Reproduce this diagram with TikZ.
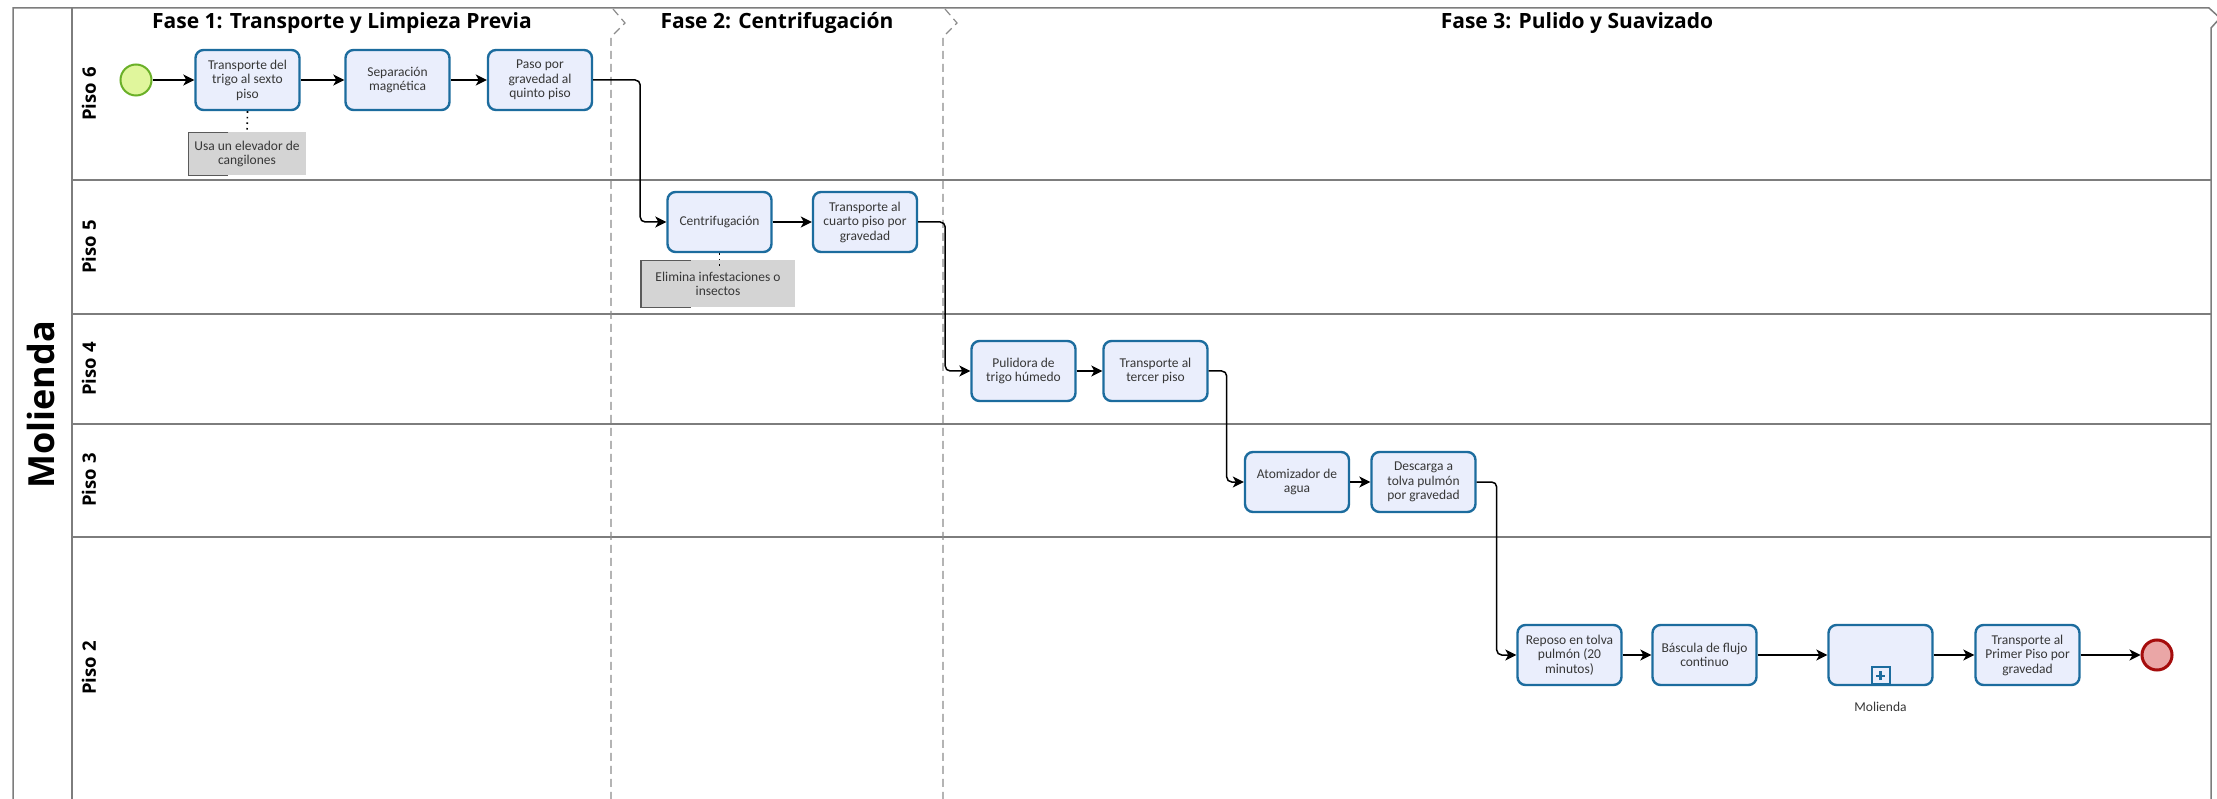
\documentclass[tikz,border=0pt]{standalone}
\usepackage{fontspec}
\setmainfont{Carlito}
\newfontfamily\headfont{Open Sans}
\usetikzlibrary{arrows.meta}

\definecolor{taskfill}{RGB}{234,238,252}
\definecolor{taskline}{RGB}{28,108,158}
\definecolor{lanegray}{RGB}{125,125,125}
\definecolor{phasegray}{RGB}{140,140,140}
\definecolor{txt}{RGB}{55,55,55}
\definecolor{startfill}{RGB}{224,246,156}
\definecolor{startline}{RGB}{106,176,40}
\definecolor{endfill}{RGB}{234,166,166}
\definecolor{endline}{RGB}{165,12,12}
\definecolor{notefill}{RGB}{212,212,212}
\definecolor{notebracket}{RGB}{90,90,90}

\tikzset{
  task/.style={draw=taskline, fill=taskfill, line width=2.4pt, rounded corners=8pt,
    minimum width=104pt, minimum height=60pt, align=center, text=txt,
    font=\fontsize{13.5}{14.5}\selectfont, inner sep=2pt},
  flow/.style={draw=black, line width=1.5pt, rounded corners=5pt,
    -{Stealth[length=11pt,width=11pt,inset=3pt]}},
  note/.style={fill=notefill, align=center, text=txt, inner sep=0pt,
    font=\fontsize{13.5}{14.5}\selectfont},
  notebr/.style={draw=notebracket, line width=1.5pt},
  assoc/.style={draw=black, line width=1.6pt, dash pattern=on 1.6pt off 4pt},
  pool/.style={draw=lanegray, line width=1.5pt},
  phase/.style={draw=phasegray, line width=1.2pt, dash pattern=on 8pt off 5pt},
  phasetitle/.style={font=\headfont\bfseries\fontsize{21}{24}\selectfont},
  lanetitle/.style={font=\headfont\bfseries\fontsize{18.5}{20}\selectfont, rotate=90},
  startev/.style={circle, draw=startline, fill=startfill, line width=2pt, minimum size=31pt, inner sep=0pt},
  endev/.style={circle, draw=endline, fill=endfill, line width=3pt, minimum size=30pt, inner sep=0pt},
}

\begin{document}
\begin{tikzpicture}[x=1pt, y=-1pt]
\useasboundingbox (0,0) rectangle (2217,799);
\clip (0,0) rectangle (2217,799);
\fill[white] (0,0) rectangle (2217,799);

% pool frame, label column and lanes
\draw[pool] (13,799) -- (13,8) -- (2209,8) -- (2220,18) -- (2211,28) -- (2211,799);
\draw[pool] (72,8) -- (72,799);
\foreach \yy in {180,314,424,537} \draw[pool] (72,\yy) -- (2211,\yy);

% phase separators
\draw[phase] (613,9) -- (625,23) -- (611,37) -- (611,799);
\draw[phase] (945,9) -- (957,23) -- (943,37) -- (943,799);

% titles
\node[font=\headfont\bfseries\fontsize{36}{40}\selectfont, rotate=90] (pooltitle) at (41,405) {Molienda};
\node[phasetitle] (f1) at (342,23) {Fase 1: Transporte y Limpieza Previa};
\node[phasetitle] (f2) at (777,23) {Fase 2: Centrifugación};
\node[phasetitle] (f3) at (1577,23) {Fase 3: Pulido y Suavizado};
\node[lanetitle] (l6) at (89,94) {Piso 6};
\node[lanetitle] (l5) at (89,247) {Piso 5};
\node[lanetitle] (l4) at (89,369) {Piso 4};
\node[lanetitle] (l3) at (89,480) {Piso 3};
\node[lanetitle] (l2) at (89,668) {Piso 2};

% Piso 6
\node[startev] (start) at (136,80) {};
\node[task] (t1) at (247.5,80) {Transporte del\\trigo al sexto\\piso};
\node[task] (t2) at (397.5,80) {Separación\\magnética};
\node[task] (t3) at (540,80) {Paso por\\gravedad al\\quinto piso};
\node[note, minimum width=117pt, minimum height=43pt] (n1) at (247,154) {Usa un elevador de\\cangilones};
\draw[notebr] ([xshift=40pt]n1.north west) -- (n1.north west) -- (n1.south west) -- ([xshift=40pt]n1.south west);

% Piso 5
\node[task] (c) at (719.5,222) {Centrifugación};
\node[task] (t5) at (865,222) {Transporte al\\cuarto piso por\\gravedad};
\node[note, minimum width=154pt, minimum height=47pt] (n2) at (718,284) {Elimina infestaciones o\\insectos};
\draw[notebr] ([xshift=50pt]n2.north west) -- (n2.north west) -- (n2.south west) -- ([xshift=50pt]n2.south west);

% Piso 4
\node[task] (p) at (1023.5,371) {Pulidora de\\trigo húmedo};
\node[task] (t7) at (1155.5,371) {Transporte al\\tercer piso};

% Piso 3
\node[task] (a) at (1297,482) {Atomizador de\\agua};
\node[task] (d) at (1423.5,482) {Descarga a\\tolva pulmón\\por gravedad};

% Piso 2
\node[task] (r) at (1569.5,655) {Reposo en tolva\\pulmón (20\\minutos)};
\node[task] (b) at (1704.5,655) {Báscula de flujo\\continuo};
\node[task] (m) at (1880.5,655) {};
\node[draw=taskline, fill=taskfill, line width=2pt, minimum width=18pt, minimum height=17pt,
  inner sep=0pt, anchor=south] (mk) at ([yshift=1pt]m.south) {};
\draw[taskline, line width=2.4pt] ([yshift=-4.5pt]mk.center) -- ([yshift=4.5pt]mk.center)
  ([xshift=-4.5pt]mk.center) -- ([xshift=4.5pt]mk.center);
\node[text=txt, font=\fontsize{13.5}{14.5}\selectfont] (mlab) at (1880.5,707) {Molienda};
\node[task] (tp) at (2027.5,655) {Transporte al\\Primer Piso por\\gravedad};
\node[endev] (end) at (2157,655) {};

% sequence flows
\draw[flow] (start) -- (t1);
\draw[flow] (t1) -- (t2);
\draw[flow] (t2) -- (t3);
\draw[flow] (t3.east) -- ++(47,0) |- (c.west);
\draw[flow] (c) -- (t5);
\draw[flow] (t5.east) -- ++(27,0) |- (p.west);
\draw[flow] (p) -- (t7);
\draw[flow] (t7.east) -- ++(18,0) |- (a.west);
\draw[flow] (a) -- (d);
\draw[flow] (d.east) -- ++(20,0) |- (r.west);
\draw[flow] (r) -- (b);
\draw[flow] (b) -- (m);
\draw[flow] (m) -- (tp);
\draw[flow] (tp) -- (end);

% associations
\draw[assoc] (t1.south) -- (n1.north);
\draw[assoc] (c.south) -- ([yshift=-6pt]n2.north -| c.south);
\end{tikzpicture}
\end{document}
